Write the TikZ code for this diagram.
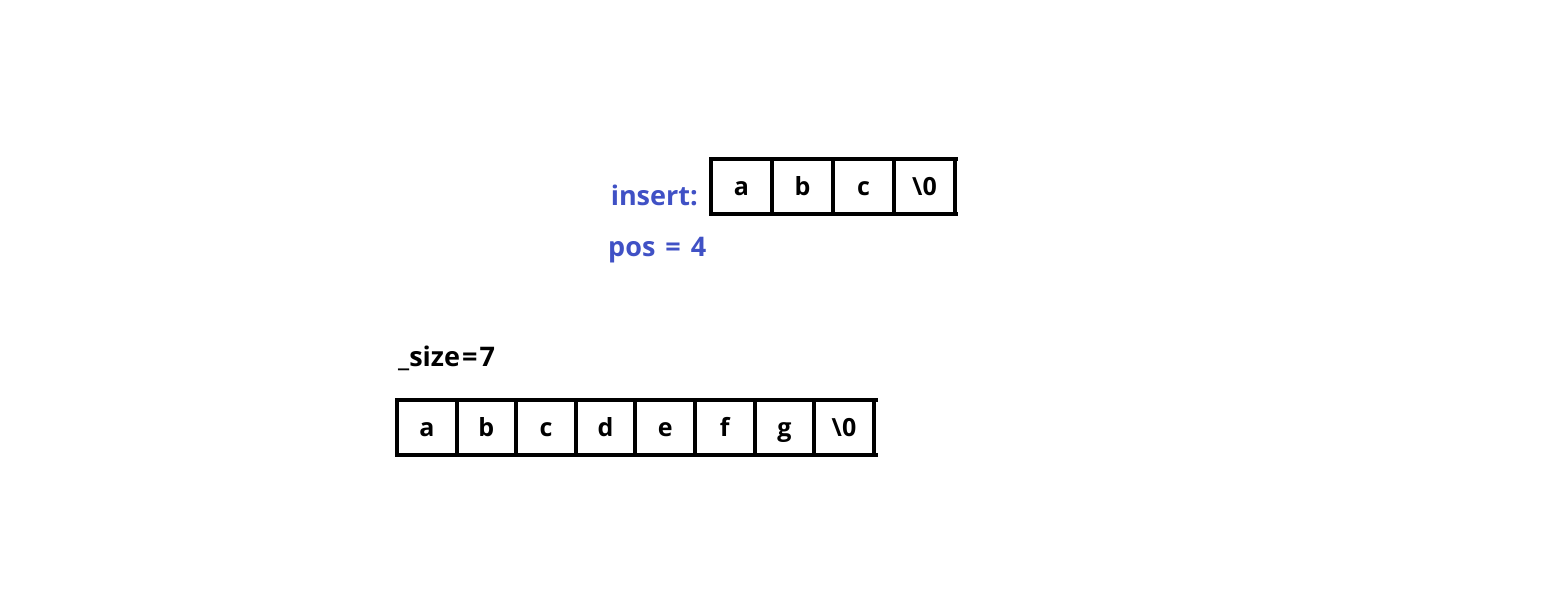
\documentclass[tikz,border=0pt]{standalone}
\usepackage{fontspec}
\setmainfont{Open Sans}
\usetikzlibrary{positioning}
\definecolor{insblue}{RGB}{64,81,197}
\tikzset{
  cell/.style={draw, line width=4pt, minimum height=55pt, inner sep=0pt, outer sep=0pt,
    text height=20pt, text depth=2pt, font=\fontsize{25}{30}\selectfont\bfseries},
  tag/.style={inner sep=0pt, font=\fontsize{27}{32}\selectfont\bfseries}
}
\begin{document}
\begin{tikzpicture}[x=1pt,y=-1pt]
\useasboundingbox (0,0) rectangle (1545,614);

% string to insert
\foreach \ch [count=\i] in {a,b,c,\textbackslash 0}
  \node[cell, minimum width=61pt] (ins\i) at (680.5+61*\i,186.5) {\ch};
\draw[line width=4pt] (ins4.north east) -- ++(3,0);
\draw[line width=4pt] (ins4.south east) -- ++(3,0);

\node[tag, text=insblue, anchor=base east] (inslabel) at (698,205) {insert:};
\node[tag, text=insblue, anchor=base west] (poslabel) at (608,256) {pos\hspace{3pt} = \hspace{3pt}4};

% current string
\node[tag, anchor=base west] (sizelabel) at (398,366) {\_size\hspace{2pt}=\hspace{2pt}7};
\foreach \ch [count=\i] in {a,b,c,d,e,f,g,\textbackslash 0}
  \node[cell, minimum width=59.6pt] (str\i) at (367.2+59.6*\i,427.5) {\ch};
\draw[line width=4pt] (str8.north east) -- ++(4,0);
\draw[line width=4pt] (str8.south east) -- ++(4,0);
\end{tikzpicture}
\end{document}
